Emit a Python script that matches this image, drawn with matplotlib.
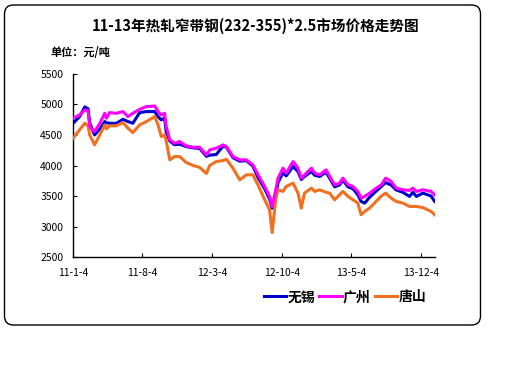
import matplotlib
matplotlib.use("Agg")
import matplotlib.pyplot as plt
from matplotlib.patches import FancyBboxPatch
from matplotlib.transforms import IdentityTransform
import pandas as pd

plt.rcParams['font.family'] = ['Noto Sans CJK SC', 'DejaVu Sans']

title = "11-13年热轧窄带钢(232-355)*2.5市场价格走势图"
unit_label = "单位：元/吨"
series_names = ["无锡", "广州", "唐山"]
series_colors = ["#0000CC", "#FF00FF", "#F07020"]

dates = ["2011-01-04", "2011-01-24", "2011-02-09", "2011-02-19", "2011-02-24",
         "2011-03-11", "2011-03-27", "2011-04-11", "2011-04-16", "2011-04-26",
         "2011-05-16", "2011-06-06", "2011-06-21", "2011-07-06", "2011-07-27",
         "2011-08-16", "2011-09-11", "2011-09-21", "2011-10-01", "2011-10-11",
         "2011-10-16", "2011-10-27", "2011-11-11", "2011-11-26", "2011-12-16",
         "2012-01-06", "2012-01-26", "2012-02-16", "2012-02-26", "2012-03-17",
         "2012-04-07", "2012-04-17", "2012-05-07", "2012-05-28", "2012-06-17",
         "2012-07-07", "2012-07-23", "2012-08-12", "2012-08-27", "2012-09-04",
         "2012-09-15", "2012-09-22", "2012-10-07", "2012-10-17", "2012-11-07",
         "2012-11-22", "2012-12-02", "2012-12-12", "2013-01-02", "2013-01-12",
         "2013-01-27", "2013-02-16", "2013-02-27", "2013-03-14", "2013-03-29",
         "2013-04-08", "2013-04-24", "2013-05-09", "2013-05-24", "2013-06-03",
         "2013-06-14", "2013-06-29", "2013-07-19", "2013-08-04", "2013-08-17",
         "2013-09-03", "2013-09-18", "2013-10-09", "2013-10-29", "2013-11-08",
         "2013-11-19", "2013-12-09", "2014-01-03", "2014-01-14"]

wuxi = [4690, 4800, 4960, 4930, 4700, 4500, 4600, 4720, 4700, 4693,
        4690, 4758, 4720, 4693, 4867, 4884, 4884, 4800, 4747, 4780,
        4550, 4400, 4340, 4350, 4310, 4290, 4280, 4150, 4170, 4180,
        4320, 4300, 4130, 4070, 4080, 3990, 3800, 3620, 3450, 3300,
        3500, 3720, 3880, 3830, 3984, 3900, 3770, 3820, 3900, 3840,
        3820, 3890, 3790, 3650, 3680, 3760, 3650, 3620, 3520, 3411,
        3383, 3480, 3580, 3656, 3720, 3680, 3600, 3560, 3493, 3560,
        3493, 3547, 3500, 3411]

guangzhou = [4775, 4829, 4911, 4900, 4638, 4556, 4693, 4856, 4775, 4867,
             4856, 4884, 4802, 4856, 4922, 4965, 4976, 4884, 4829, 4856,
             4638, 4420, 4365, 4393, 4322, 4300, 4300, 4175, 4256, 4284,
             4338, 4311, 4147, 4093, 4093, 4011, 3847, 3656, 3493, 3329,
             3602, 3793, 3956, 3875, 4065, 3956, 3793, 3847, 3956, 3875,
             3847, 3929, 3820, 3684, 3711, 3793, 3684, 3656, 3575, 3465,
             3493, 3547, 3629, 3684, 3793, 3738, 3629, 3602, 3591, 3629,
             3575, 3602, 3575, 3520]

tangshan = [4447, 4584, 4693, 4650, 4502, 4338, 4502, 4666, 4600, 4650,
            4650, 4704, 4611, 4540, 4666, 4720, 4802, 4666, 4475, 4502,
            4400, 4093, 4147, 4147, 4050, 4000, 3970, 3870, 4000, 4065,
            4080, 4104, 3956, 3765, 3847, 3847, 3680, 3438, 3275, 2900,
            3450, 3602, 3575, 3656, 3711, 3547, 3302, 3547, 3629, 3575,
            3602, 3560, 3547, 3438, 3520, 3575, 3493, 3438, 3383, 3193,
            3247, 3302, 3411, 3500, 3547, 3465, 3411, 3383, 3329, 3329,
            3329, 3310, 3247, 3193]

tick_dates = ["2011-01-04", "2011-08-04", "2012-03-04", "2012-10-04", "2013-05-04", "2013-12-04"]
tick_labels = ["11-1-4", "11-8-4", "12-3-4", "12-10-4", "13-5-4", "13-12-4"]
y_ticks = [2500, 3000, 3500, 4000, 4500, 5000, 5500]

x = pd.to_datetime(dates)

fig = plt.figure(figsize=(5.12, 3.84), dpi=100)
border = FancyBboxPatch((4.5, 59), 476, 320, boxstyle="round,pad=0,rounding_size=9",
                        transform=IdentityTransform(), facecolor="none",
                        edgecolor="black", linewidth=1.0, zorder=0)
fig.patches.append(border)

ax = fig.add_axes([0.1426, 0.3307, 0.7070, 0.4766])
ax.patch.set_alpha(0)
lw = 2.2
ax.plot(x, wuxi, color=series_colors[0], lw=lw, label=series_names[0], zorder=3)
ax.plot(x, guangzhou, color=series_colors[1], lw=lw, label=series_names[1], zorder=4)
ax.plot(x, tangshan, color=series_colors[2], lw=lw, label=series_names[2], zorder=3)

ax.set_ylim(2500, 5500)
ax.set_yticks(y_ticks)
ax.set_xlim(pd.Timestamp("2011-01-04"), pd.Timestamp("2014-01-15"))
ax.set_xticks(pd.to_datetime(tick_dates))
ax.set_xticklabels(tick_labels)
for s in ["top", "right"]:
    ax.spines[s].set_visible(False)
for s in ["left", "bottom"]:
    ax.spines[s].set_linewidth(1.0)
ax.tick_params(axis="both", direction="in", length=3, width=0.8, labelsize=7.5)
ax.tick_params(axis="x", pad=8)
ax.tick_params(axis="y", pad=7)

fig.text(0.5, 0.932, title, ha="center", va="center", fontsize=10.5, fontweight="bold")
fig.text(0.098, 0.862, unit_label, ha="left", va="center", fontsize=8, fontweight="bold")

leg = fig.legend(loc="center", bbox_to_anchor=(0.674, 0.226), ncol=3, frameon=False,
                 prop={"size": 10, "weight": "bold"}, handlelength=1.6,
                 handletextpad=0.1, columnspacing=0.3)

fig.savefig("out.png", dpi=100)
